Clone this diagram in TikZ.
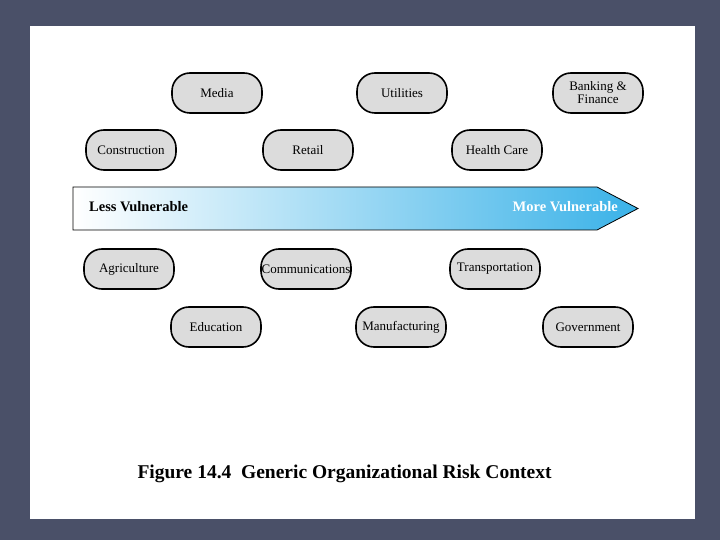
\documentclass[tikz,border=0pt]{standalone}
\usepackage{fontspec}
\setmainfont{Liberation Serif}
\definecolor{bgslate}{RGB}{74,80,104}
\definecolor{nodegray}{RGB}{220,220,220}
\definecolor{vulblue}{RGB}{58,178,232}
\begin{document}
\begin{tikzpicture}[x=1pt,y=-1pt,
  sector/.style={draw=black, line width=1.6pt, fill=nodegray, rectangle, rounded corners=18pt,
    minimum width=90pt, minimum height=40pt, inner sep=0pt, font=\fontsize{13}{13}\selectfont, align=center}]
\useasboundingbox (0,0) rectangle (720,540);
\fill[bgslate] (0,0) rectangle (720,540);
\fill[white] (30,26) rectangle (695,519);
% arrow
\coordinate (a1) at (73,187);
\coordinate (a2) at (597,187);
\coordinate (tip) at (638,208.5);
\coordinate (a3) at (597,230);
\coordinate (a4) at (73,230);
\shade[left color=white, right color=vulblue] (a1) -- (a2) -- (tip) -- (a3) -- (a4) -- cycle;
\draw[line width=0.8pt, line join=miter] (a1) -- (a2) -- (tip) -- (a3) -- (a4) -- cycle;
\node[anchor=west, inner sep=0pt, font=\bfseries\fontsize{14.5}{15}\selectfont] (less) at (89,207) {Less Vulnerable};
\node[anchor=east, inner sep=0pt, text=white, font=\bfseries\fontsize{14.5}{15}\selectfont] (more) at (618,207) {More Vulnerable};
% sectors
\node[sector] (media) at (217,93) {Media};
\node[sector] (util) at (402,93) {Utilities};
\node[sector] (bank) at (598,93) {Banking \&\\Finance};
\node[sector] (constr) at (131,150) {Construction};
\node[sector] (retail) at (308,150) {Retail};
\node[sector] (health) at (497,150) {Health Care};
\node[sector] (agri) at (129,269) {Agriculture};
\node[sector] (comm) at (306,269) {Communications};
\node[sector] (trans) at (495,269) {Transportation};
\node[sector] (edu) at (216,327) {Education};
\node[sector] (manu) at (401,327) {Manufacturing};
\node[sector] (gov) at (588,327) {Government};
% caption
\node[font=\bfseries\fontsize{19.5}{21}\selectfont] (cap) at (344.5,474) {Figure 14.4\ \ Generic Organizational Risk Context};
\end{tikzpicture}
\end{document}
